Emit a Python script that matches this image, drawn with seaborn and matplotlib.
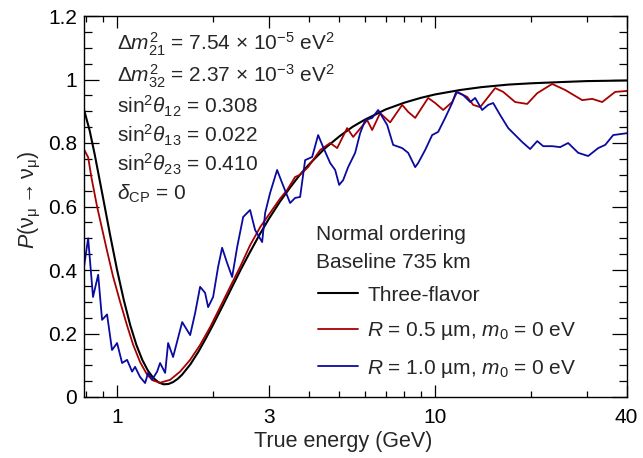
import numpy as np
import pandas as pd
import matplotlib
matplotlib.use("Agg")
import matplotlib.pyplot as plt
from matplotlib.ticker import FixedLocator, FixedFormatter, MultipleLocator, NullFormatter
import seaborn as sns

# Three-flavor survival probability
energy_3f = [0.787, 0.82, 0.85, 0.9, 0.95, 1.0, 1.05, 1.1, 1.15, 1.2, 1.25, 1.3, 1.35,
             1.4, 1.45, 1.5, 1.55, 1.6, 1.7, 1.8, 1.9, 2.0, 2.15, 2.3, 2.45, 2.6, 2.8,
             3.0, 3.25, 3.5, 3.75, 4.0, 4.5, 5.0, 5.5, 6.0, 7.0, 8.0, 9.0, 10.0, 12.0,
             14.0, 17.0, 20.0, 25.0, 30.0, 35.0, 40.2]
prob_3f = [0.905, 0.839, 0.765, 0.636, 0.512, 0.400, 0.305, 0.226, 0.164, 0.117, 0.083,
           0.060, 0.046, 0.040, 0.041, 0.047, 0.057, 0.070, 0.103, 0.142, 0.184, 0.226,
           0.288, 0.347, 0.402, 0.451, 0.510, 0.561, 0.615, 0.660, 0.699, 0.731, 0.783,
           0.821, 0.851, 0.873, 0.906, 0.927, 0.942, 0.953, 0.967, 0.976, 0.984, 0.988,
           0.992, 0.995, 0.996, 0.997]

# R = 0.5 um, m0 = 0 eV
energy_r05 = [0.787, 0.811, 0.831, 0.865, 0.897, 0.930, 0.971, 1.022, 1.075, 1.123, 1.181,
              1.243, 1.298, 1.365, 1.468, 1.578, 1.697, 1.824, 1.961, 2.108, 2.267, 2.437,
              2.619, 2.817, 3.028, 3.255, 3.424, 3.628, 3.762, 3.986, 4.350, 4.676, 4.920,
              5.288, 5.523, 6.113, 6.338, 6.714, 7.219, 7.486, 7.876, 8.226, 8.653, 9.103,
              9.506, 10.0, 10.60, 11.31, 11.73, 12.61, 13.17, 13.85, 14.68, 15.44, 16.36,
              17.85, 19.47, 20.94, 23.33, 25.63, 29.00, 31.17, 33.51, 36.81, 40.2]
prob_r05 = [0.780, 0.755, 0.690, 0.600, 0.530, 0.460, 0.380, 0.300, 0.225, 0.165, 0.110,
            0.070, 0.052, 0.045, 0.054, 0.080, 0.117, 0.164, 0.220, 0.283, 0.347, 0.410,
            0.478, 0.535, 0.580, 0.625, 0.652, 0.693, 0.700, 0.724, 0.778, 0.800, 0.784,
            0.847, 0.819, 0.872, 0.841, 0.894, 0.865, 0.888, 0.920, 0.898, 0.879, 0.913,
            0.942, 0.926, 0.904, 0.929, 0.961, 0.945, 0.920, 0.913, 0.945, 0.973, 0.961,
            0.929, 0.923, 0.957, 0.986, 0.967, 0.935, 0.939, 0.929, 0.961, 0.964]

# R = 1.0 um, m0 = 0 eV
energy_r10 = [0.787, 0.811, 0.840, 0.872, 0.897, 0.930, 0.964, 1.000, 1.037, 1.075, 1.115,
              1.139, 1.181, 1.225, 1.252, 1.288, 1.336, 1.365, 1.416, 1.447, 1.500, 1.602,
              1.697, 1.759, 1.824, 1.891, 1.933, 2.004, 2.078, 2.139, 2.218, 2.300, 2.385,
              2.491, 2.619, 2.716, 2.858, 2.921, 3.028, 3.185, 3.303, 3.499, 3.628, 3.762,
              3.901, 4.104, 4.287, 4.445, 4.676, 4.849, 4.991, 5.137, 5.326, 5.603, 5.810,
              6.025, 6.338, 6.620, 7.064, 7.378, 7.876, 8.226, 8.653, 8.843, 9.302, 9.786,
              10.22, 10.75, 11.31, 11.64, 12.25, 12.89, 13.36, 14.05, 14.68, 15.22, 16.01,
              16.97, 17.85, 18.78, 19.89, 20.94, 21.86, 23.33, 24.72, 26.19, 28.17, 30.28,
              32.56, 34.25, 36.29, 38.17, 40.2]
prob_r10 = [0.410, 0.500, 0.315, 0.385, 0.243, 0.260, 0.148, 0.170, 0.107, 0.117, 0.080,
            0.095, 0.063, 0.044, 0.076, 0.054, 0.080, 0.107, 0.076, 0.170, 0.126, 0.236,
            0.195, 0.264, 0.347, 0.328, 0.283, 0.315, 0.410, 0.470, 0.422, 0.378, 0.472,
            0.567, 0.589, 0.526, 0.488, 0.580, 0.643, 0.715, 0.674, 0.611, 0.627, 0.630,
            0.746, 0.756, 0.825, 0.787, 0.737, 0.715, 0.668, 0.683, 0.724, 0.769, 0.831,
            0.872, 0.879, 0.904, 0.857, 0.794, 0.784, 0.769, 0.724, 0.737, 0.778, 0.825,
            0.835, 0.879, 0.926, 0.961, 0.951, 0.929, 0.942, 0.904, 0.920, 0.926, 0.888,
            0.847, 0.825, 0.803, 0.781, 0.806, 0.790, 0.790, 0.787, 0.800, 0.769, 0.759,
            0.784, 0.794, 0.825, 0.828, 0.831]

x_ticks = [1, 3, 10, 40]
x_tick_labels = ["1", "3", "10", "40"]
x_minor = [0.8, 0.9, 2, 4, 5, 6, 7, 8, 9, 20, 30]
y_ticks = [0, 0.2, 0.4, 0.6, 0.8, 1.0, 1.2]
y_tick_labels = ["0", "0.2", "0.4", "0.6", "0.8", "1", "1.2"]

params = [r"$\Delta m^2_{21}$ = 7.54 $\times$ 10$^{-5}$ eV$^2$",
          r"$\Delta m^2_{32}$ = 2.37 $\times$ 10$^{-3}$ eV$^2$",
          r"sin$^2\theta_{12}$ = 0.308",
          r"sin$^2\theta_{13}$ = 0.022",
          r"sin$^2\theta_{23}$ = 0.410",
          r"$\delta_{\mathrm{CP}}$ = 0"]
labels = ["Three-flavor",
          r"$R$ = 0.5 µm, $m_0$ = 0 eV",
          r"$R$ = 1.0 µm, $m_0$ = 0 eV"]
colors = ["#000000", "#a80000", "#0a0aa0"]

sns.set_style("ticks")
plt.rcParams["font.family"] = ["Liberation Sans", "DejaVu Sans"]
plt.rcParams["mathtext.fontset"] = "custom"
plt.rcParams["mathtext.rm"] = "Liberation Sans"
plt.rcParams["mathtext.it"] = "Liberation Sans:italic"
plt.rcParams["mathtext.bf"] = "Liberation Sans:bold"

fig = plt.figure(figsize=(6.43, 4.58), dpi=100)
ax = fig.add_axes([84 / 643, 1 - 397 / 458, 543 / 643, 381 / 458])

series = [(energy_3f, prob_3f), (energy_r05, prob_r05), (energy_r10, prob_r10)]
for (e, p), lab, col, lw in zip(series, labels, colors, [1.5, 1.3, 1.3]):
    df = pd.DataFrame({"E": e, "P": p})
    sns.lineplot(data=df, x="E", y="P", ax=ax, color=col, lw=lw, label=lab,
                 estimator=None, sort=False)

ax.set_xscale("log")
ax.set_xlim(0.787, 40.1)
ax.set_ylim(0, 1.2)
ax.xaxis.set_major_locator(FixedLocator(x_ticks))
ax.xaxis.set_major_formatter(FixedFormatter(x_tick_labels))
ax.xaxis.set_minor_locator(FixedLocator(x_minor))
ax.xaxis.set_minor_formatter(NullFormatter())
ax.yaxis.set_major_locator(FixedLocator(y_ticks))
ax.yaxis.set_major_formatter(FixedFormatter(y_tick_labels))
ax.yaxis.set_minor_locator(MultipleLocator(0.05))

ax.tick_params(which="both", direction="in", top=True, right=True, width=0.9,
               labelsize=15, colors="black")
ax.tick_params(axis="y", which="major", length=11, pad=5)
ax.tick_params(axis="y", which="minor", length=5.5)
ax.tick_params(axis="x", which="major", length=8.5, pad=8)
ax.tick_params(axis="x", which="minor", length=4.5)
for s in ax.spines.values():
    s.set_linewidth(1.0)
    s.set_color("black")

ax.set_xlabel("True energy (GeV)", fontsize=15.5)
ax.set_ylabel(r"$P(\mathrm{\nu_\mu \rightarrow \nu_\mu})$", fontsize=15.5)
ax.xaxis.set_label_coords(0.477, -0.09)
ax.yaxis.set_label_coords(-0.075, 0.517)

ys = [0.9108, 0.8268, 0.7454, 0.6667, 0.5906, 0.5171]
for txt, y in zip(params, ys):
    ax.text(0.061, y, txt, transform=ax.transAxes, fontsize=15, va="baseline", ha="left")

ax.text(0.4273, 0.412, "Normal ordering", transform=ax.transAxes, fontsize=15, va="baseline")
ax.text(0.4273, 0.3386, "Baseline 735 km", transform=ax.transAxes, fontsize=15, va="baseline")

ax.legend(loc="upper left", bbox_to_anchor=(0.431, 0.292), frameon=False, fontsize=15,
          handlelength=1.92, handletextpad=0.45, labelspacing=0.74, borderpad=0,
          borderaxespad=0)

fig.savefig("out.png", dpi=100)
